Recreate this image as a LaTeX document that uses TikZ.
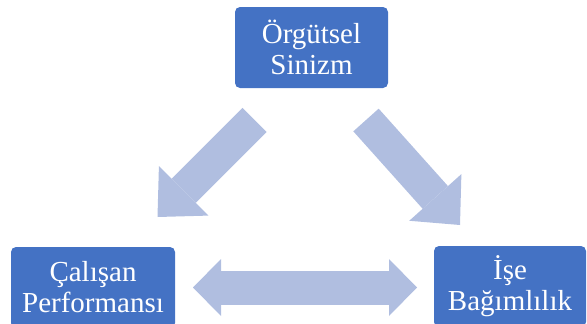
\documentclass[tikz,border=0pt]{standalone}
\usepackage{fontspec}
\setmainfont{Liberation Serif}
\usetikzlibrary{arrows.meta}
\definecolor{kutu}{HTML}{4472C4}
\definecolor{okrenk}{HTML}{B0BEE0}

\begin{document}
\begin{tikzpicture}[x=1pt, y=-1pt,
		kavram/.style={rectangle, rounded corners=5pt, fill=kutu, text=white, align=center, font=\fontsize{29}{31}\selectfont, minimum height=81pt, inner sep=0pt},
		blok/.style={draw=okrenk, line width=34pt, line cap=butt},
		ucbuyuk/.style={-{Triangle[width=70pt, length=37pt, line width=0pt]}}]
		\useasboundingbox (0,0) rectangle (587,324);
		
		\node[kavram, minimum width=153pt] (sinizm) at (311.5,47.5) {Örgütsel\\Sinizm};
		\node[kavram, minimum width=164pt] (performans) at (93,287.5) {Çalışan\\Performansı};
		\node[kavram, minimum width=152pt] (bagimlilik) at (510,286.5) {İşe\\Bağımlılık};
		
		\coordinate (s1) at (254.5,120);
		\coordinate (p1) at (157.5,217);
		\coordinate (s2) at (366,120);
		\coordinate (b1) at (460,225);
		\coordinate (p2) at (193,287.5);
		\coordinate (b2) at (417,287.5);
		
		\draw[blok, ucbuyuk] (s1) -- (p1);
		\draw[blok, ucbuyuk] (s2) -- (b1);
		\draw[blok, {Triangle[width=57pt, length=28pt, line width=0pt]}-{Triangle[width=57pt, length=28pt, line width=0pt]}] (p2) -- (b2);
		
	\end{tikzpicture}
\end{document}
